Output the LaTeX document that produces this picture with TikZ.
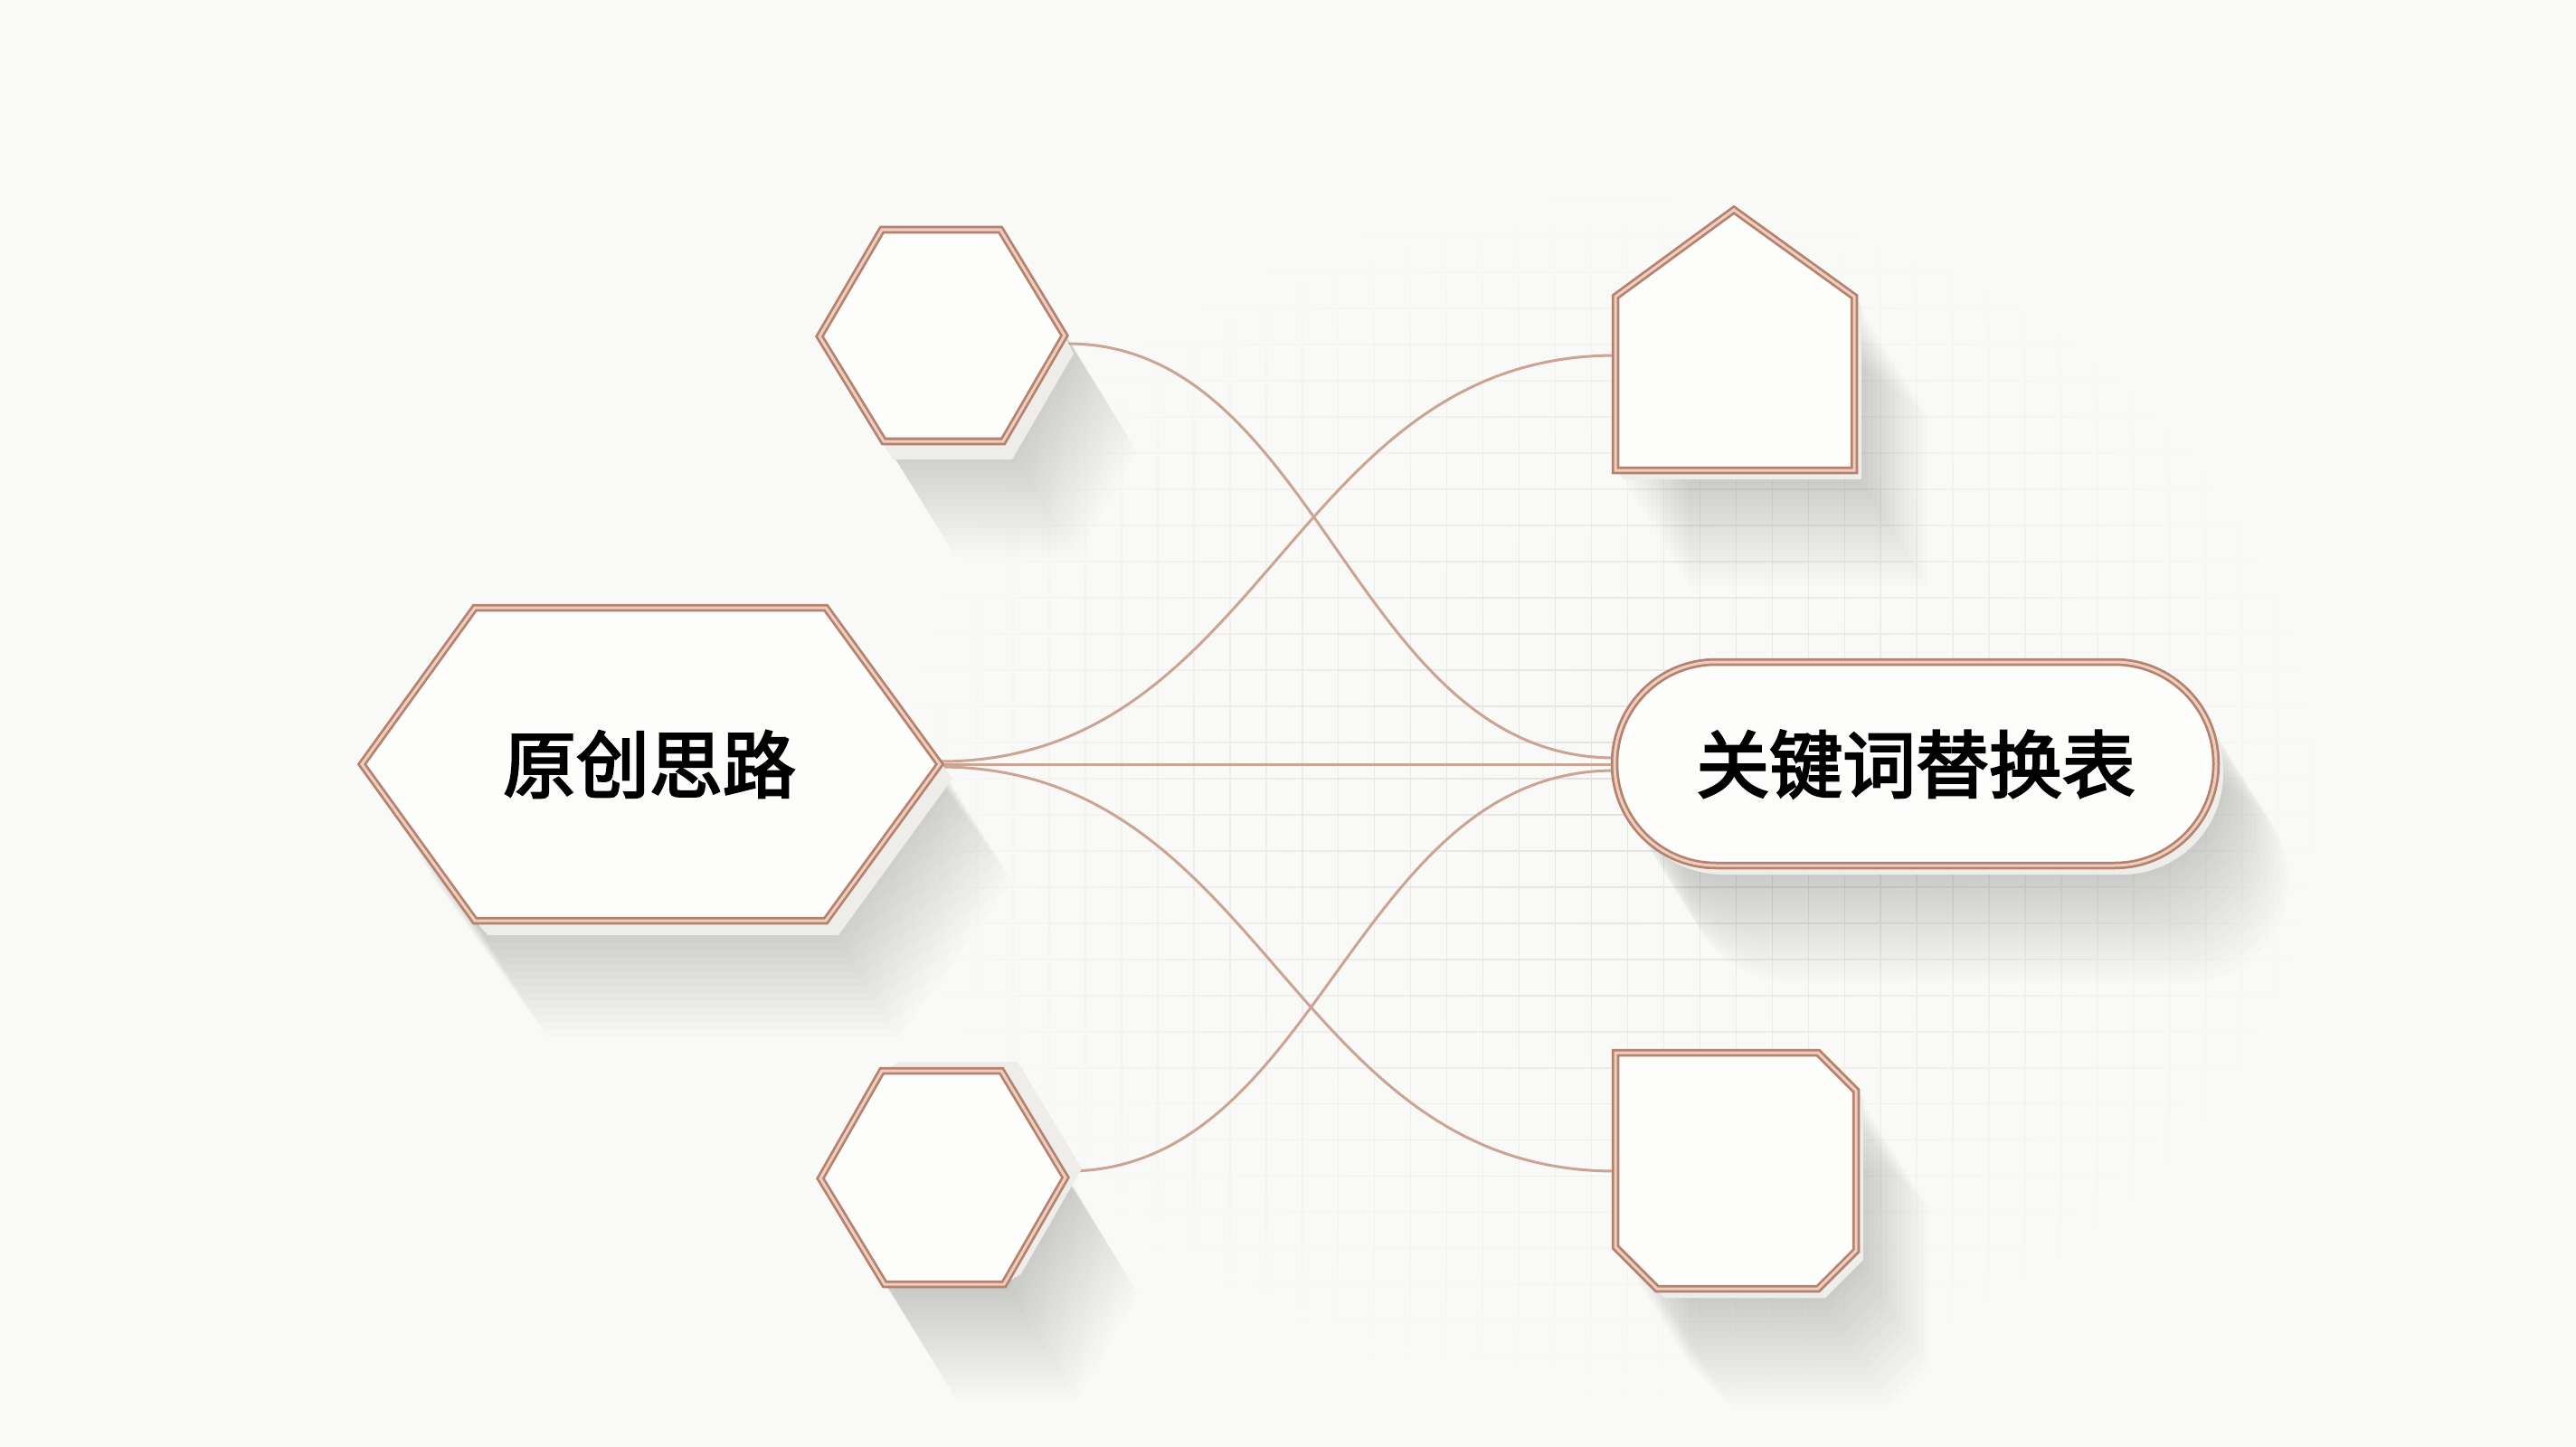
\documentclass[tikz,border=0pt]{standalone}
\usepackage{fontspec}
\newfontfamily\cjk[FakeBold=3]{Noto Sans CJK SC}
\usetikzlibrary{fadings}
\definecolor{bgc}{RGB}{249,249,247}
\definecolor{facec}{RGB}{253,253,251}
\definecolor{sidec}{RGB}{238,237,234}
\definecolor{copperD}{RGB}{180,130,110}
\definecolor{copperL}{RGB}{238,206,190}
\definecolor{wirec}{RGB}{204,164,148}
\definecolor{gridc}{RGB}{226,226,226}
\tikzfading[name=gridfade, inner color=transparent!0, outer color=transparent!100]
\newcommand\drawSolid[3]{%
  \foreach \t in {0.2,0.4,0.6,0.8,1.0} \fill[side, shift={(\t*#2,\t*#3)}, #1];
  \fill[face, #1];
  \draw[rimD, #1];
  \draw[rimL, #1];
}
\newcommand\castShadow[1]{%
  \foreach \k in {1,...,16} \fill[shadowlayer, shift={(\k*5,\k*8)}, #1];
}
\begin{document}
\begin{tikzpicture}[x=0.01cm,y=-0.01cm,
  pBig/.style={insert path={(400,845) -- (525,672) -- (913,672) -- (1039,845) -- (913,1018) -- (525,1018) -- cycle}},
  pTop/.style={insert path={(906,372) -- (975,254) -- (1106,254) -- (1177,371) -- (1109,488) -- (977,488) -- cycle}},
  pBot/.style={insert path={(907,1303) -- (975,1184) -- (1107,1184) -- (1178,1302) -- (1110,1420) -- (978,1420) -- cycle}},
  pHouse/.style={insert path={(1917,232) -- (2050,328) -- (2050,520) -- (1786,520) -- (1786,328) -- cycle}},
  pPill/.style={rounded corners=1.12cm, insert path={(1785,732) rectangle (2450,957)}},
  pOct/.style={insert path={(1786,1164) -- (2010,1164) -- (2052,1206) -- (2052,1383) -- (2010,1425) -- (1832,1425) -- (1786,1379) -- cycle}},
  shadowlayer/.style={fill=black, opacity=0.012},
  side/.style={fill=sidec},
  face/.style={fill=facec},
  rimD/.style={draw=copperD, line width=0.085cm},
  rimL/.style={draw=copperL, line width=0.03cm},
  wire/.style={draw=wirec, line width=0.03cm},
  label/.style={font={\cjk\fontsize{23pt}{28pt}\selectfont}, text=black, inner sep=0pt}
]
\useasboundingbox (0,0) rectangle (2848,1600);
\fill[bgc] (0,0) rectangle (2848,1600);
% faint grid
\draw[gridc, line width=0.018cm, path fading=gridfade]
  foreach \i in {0,...,39} {(1000+\i*40,220) -- (1000+\i*40,1540)}
  foreach \j in {0,...,33} {(1000,220+\j*40) -- (2560,220+\j*40)};
% shadows
\castShadow{pBig}
\castShadow{pTop}
\castShadow{pBot}
\castShadow{pHouse}
\castShadow{pPill}
\castShadow{pOct}
% anchor points
\coordinate (src-e1) at (1039,842);
\coordinate (src-e) at (1039,845);
\coordinate (src-e2) at (1039,848);
\coordinate (top-e) at (1180,380);
\coordinate (bot-e) at (1180,1295);
\coordinate (house-w) at (1786,393);
\coordinate (pill-w1) at (1785,838);
\coordinate (pill-w) at (1785,845);
\coordinate (pill-w2) at (1785,852);
\coordinate (oct-w) at (1786,1295);
% connectors
\draw[wire] (top-e) .. controls +(280,0) and +(-290,0) .. (pill-w1);
\draw[wire] (bot-e) .. controls +(280,0) and +(-290,0) .. (pill-w2);
\draw[wire] (src-e1) .. controls +(360,0) and +(-360,0) .. (house-w);
\draw[wire] (src-e) -- (pill-w);
\draw[wire] (src-e2) .. controls +(360,0) and +(-360,0) .. (oct-w);
% solids
\drawSolid{pBig}{14}{16}
\drawSolid{pTop}{10}{20}
\drawSolid{pBot}{18}{-10}
\drawSolid{pHouse}{8}{10}
\drawSolid{pPill}{8}{10}
\drawSolid{pOct}{8}{10}
% labels
\node[label] (src) at (718,845) {原创思路};
\node[label] (tbl) at (2118,845) {关键词替换表};
\end{tikzpicture}
\end{document}
